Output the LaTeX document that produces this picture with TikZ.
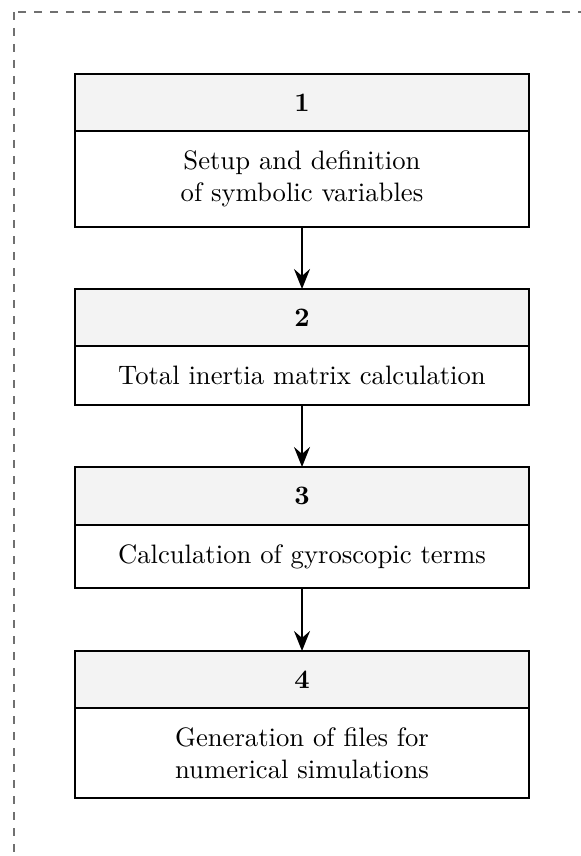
\documentclass[tikz,border=0pt]{standalone}
\usetikzlibrary{arrows.meta}
\definecolor{headfill}{HTML}{F3F3F3}
\definecolor{framegray}{HTML}{707070}
\begin{document}
\begin{tikzpicture}[x=0.375pt,y=-0.375pt,
  stephead/.style={draw,line width=0.9pt,fill=headfill,minimum width=170.25pt,
    inner sep=0pt,outer sep=0pt,font=\bfseries},
  stepbody/.style={draw,line width=0.9pt,fill=white,minimum width=170.25pt,
    inner sep=0pt,outer sep=0pt,align=center},
  flow/.style={line width=0.9pt,-{Stealth[length=7.5pt,width=6pt,inset=2.6pt]}}]
\clip (0,0) rectangle (581,856);
% outer dashed frame, running past the right and bottom edges
\draw[framegray,dashed,line width=0.8pt] (14,12) rectangle (620,900);

% step 1
\node[stephead,minimum height=21.375pt] (h1) at (302,102.5) {1};
\node[stepbody,minimum height=36pt] (b1) at (302,179) {Setup and definition\\of symbolic variables};
% step 2
\node[stephead,minimum height=21.375pt] (h2) at (302,317.5) {2};
\node[stepbody,minimum height=22.125pt] (b2) at (302,375.5) {Total inertia matrix calculation};
% step 3
\node[stephead,minimum height=21.75pt] (h3) at (302,496) {3};
\node[stepbody,minimum height=23.625pt] (b3) at (302,556.5) {Calculation of gyroscopic terms};
% step 4
\node[stephead,minimum height=21.375pt] (h4) at (302,679.5) {4};
\node[stepbody,minimum height=33.75pt] (b4) at (302,753) {Generation of files for\\numerical simulations};

\draw[flow] (b1.south) -- (h2.north);
\draw[flow] (b2.south) -- (h3.north);
\draw[flow] (b3.south) -- (h4.north);
\end{tikzpicture}
\end{document}
